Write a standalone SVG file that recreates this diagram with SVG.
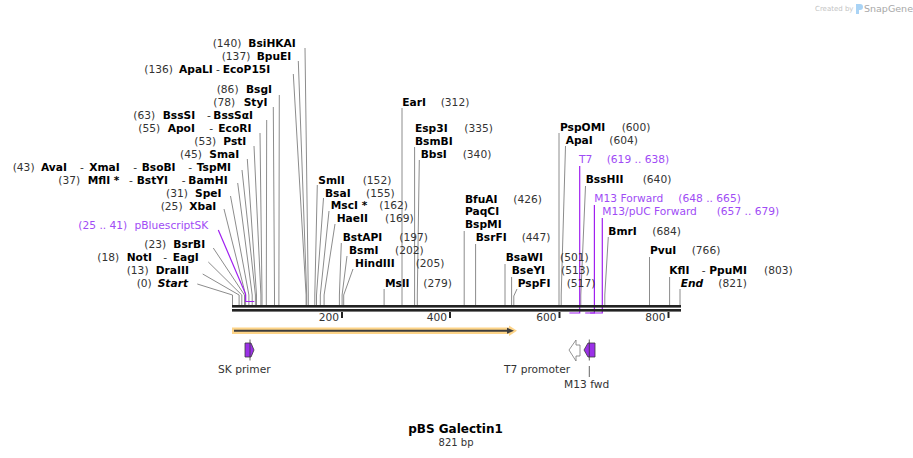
<svg xmlns="http://www.w3.org/2000/svg" width="913" height="458" viewBox="0 0 913 458">
<style>
text{font-family:"DejaVu Sans","Liberation Sans",sans-serif;font-size:10.67px}
.n{font-weight:bold;fill:#000}
.i{font-weight:bold;font-style:italic;fill:#000}
.p{fill:#333}
.pr{fill:#a04cf5}
.c{fill:none;stroke:#8c8c8c;stroke-width:1}
.cp{fill:none;stroke:#a020f0;stroke-width:1.2}
.bb{fill:#222}
.tk{stroke:#222;stroke-width:2}
.prim{fill:#9b30e8;stroke:#3a3a3a;stroke-width:0.8}
.ft{fill:#333}
</style>
<rect width="913" height="458" fill="#fff"/>

<g id="connectors">
<polyline class="c" points="305,48 308.3,295 308.3,305"/>
<polyline class="c" points="298.3,61 306.7,295 306.7,305"/>
<polyline class="c" points="293.3,74 306.1,295 306.1,305"/>
<polyline class="c" points="279.3,95 278.9,295 278.9,305"/>
<polyline class="c" points="273.3,107 274.5,295 274.5,305"/>
<polyline class="c" points="266.7,120 266.3,295 266.3,305"/>
<polyline class="c" points="260,133 262,295 262,305"/>
<polyline class="c" points="254,146 260.9,295 260.9,305"/>
<polyline class="c" points="247.3,159 256.5,295 256.5,305"/>
<polyline class="c" points="242,170 255.4,295 255.4,305"/>
<polyline class="c" points="237.7,183 252.2,295 252.2,305"/>
<polyline class="c" points="230.5,196 248.9,295 248.9,305"/>
<polyline class="c" points="224,209 245.6,295 245.6,305"/>
<polyline class="c" points="213.3,248 244.5,295 244.5,305"/>
<polyline class="c" points="208.3,262 241.8,295 241.8,305"/>
<polyline class="c" points="202.7,274 239.1,295 239.1,305"/>
<polyline class="c" points="197.3,284 232.5,295 232.5,305"/>
<polyline class="c" points="317.3,185 314.8,295 314.8,305"/>
<polyline class="c" points="323.5,198 316.5,295 316.5,305"/>
<polyline class="c" points="329,211 320.3,295 320.3,305"/>
<polyline class="c" points="335,224 324.1,295 324.1,305"/>
<polyline class="c" points="341.3,243 339.4,295 339.4,305"/>
<polyline class="c" points="347,256 342.1,295 342.1,305"/>
<polyline class="c" points="353,269 343.7,295 343.7,305"/>
<polyline class="c" points="384.1,289 384.1,305"/>
<polyline class="c" points="402,108 402,305"/>
<polyline class="c" points="414.6,147 414.6,305"/>
<polyline class="c" points="419.3,160 417.3,295 417.3,305"/>
<polyline class="c" points="464.2,231 464.2,305"/>
<polyline class="c" points="475.6,244 475.6,305"/>
<polyline class="c" points="505,264 505,305"/>
<polyline class="c" points="511.6,277 511.6,305"/>
<polyline class="c" points="517,289 513.8,296 513.8,305"/>
<polyline class="c" points="559,133 559,305"/>
<polyline class="c" points="565.5,146 561.2,295 561.2,305"/>
<polyline class="c" points="585.5,186 580.8,295 580.8,305"/>
<polyline class="c" points="608.3,237 604.8,295 604.8,305"/>
<polyline class="c" points="649.5,257 649.5,305"/>
<polyline class="c" points="669.6,277 669.6,305"/>
<polyline class="c" points="680,289 680,305"/>
<polyline class="cp" points="218.3,230 245.6,294 245.6,301.5 254.3,301.5"/>
<polyline class="cp" points="579.7,166 579.7,313 569.4,313"/>
<polyline class="cp" points="594.4,205 594.4,313 585.2,313"/>
<polyline class="cp" points="602.3,218 602.3,313 590.1,313"/>
<line x1="589.3" y1="366" x2="589.3" y2="377" stroke="#666" stroke-width="1"/>
</g>

<g id="backbone">
<rect class="bb" x="232" y="305" width="449" height="2.6"/>
<rect class="bb" x="232" y="309" width="449" height="2.6"/>
<line class="tk" x1="342" y1="312" x2="342" y2="318"/>
<line class="tk" x1="450" y1="312" x2="450" y2="318"/>
<line class="tk" x1="559.5" y1="312" x2="559.5" y2="318"/>
<line class="tk" x1="668.5" y1="312" x2="668.5" y2="318"/>
<text class="ft" x="339" y="321" text-anchor="end">200</text>
<text class="ft" x="447" y="321" text-anchor="end">400</text>
<text class="ft" x="556.5" y="321" text-anchor="end">600</text>
<text class="ft" x="665.5" y="321" text-anchor="end">800</text>
</g>

<g id="n-BsiHKAI"><text class="p" x="212.7" y="47">(140)</text><text class="n" x="248.3" y="47">BsiHKAI</text></g>
<g id="n-BpuEI"><text class="p" x="221.7" y="60">(137)</text><text class="n" x="256.7" y="60">BpuEI</text></g>
<g id="n-ApaLI"><text class="p" x="144.3" y="73">(136)</text><text class="n" x="179" y="73">ApaLI</text><text class="p" x="216" y="73">-</text><text class="n" x="222.7" y="73">EcoP15I</text></g>
<g id="n-BsgI"><text class="p" x="216.7" y="93">(86)</text><text class="n" x="246" y="93">BsgI</text></g>
<g id="n-StyI"><text class="p" x="213.3" y="106">(78)</text><text class="n" x="243.7" y="106">StyI</text></g>
<g id="n-BssSI"><text class="p" x="133.3" y="119">(63)</text><text class="n" x="162.7" y="119">BssSI</text><text class="p" x="207" y="119">-</text><text class="n" x="213.3" y="119">BssSαI</text></g>
<g id="n-ApoI"><text class="p" x="138.3" y="132">(55)</text><text class="n" x="167.7" y="132">ApoI</text><text class="p" x="209.3" y="132">-</text><text class="n" x="218.3" y="132">EcoRI</text></g>
<g id="n-PstI"><text class="p" x="194.3" y="145">(53)</text><text class="n" x="223.3" y="145">PstI</text></g>
<g id="n-SmaI"><text class="p" x="180" y="158">(45)</text><text class="n" x="209.3" y="158">SmaI</text></g>
<g id="n-AvaI"><text class="p" x="12.7" y="171">(43)</text><text class="n" x="41" y="171">AvaI</text><text class="p" x="80" y="171">-</text><text class="n" x="89.3" y="171">XmaI</text><text class="p" x="133.3" y="171">-</text><text class="n" x="141.7" y="171">BsoBI</text><text class="p" x="188.3" y="171">-</text><text class="n" x="196.7" y="171">TspMI</text></g>
<g id="n-MflI"><text class="p" x="58.3" y="184">(37)</text><text class="n" x="87.7" y="184">MflI *</text><text class="p" x="129" y="184">-</text><text class="n" x="136.7" y="184">BstYI</text><text class="p" x="181.7" y="184">-</text><text class="n" x="188.3" y="184">BamHI</text></g>
<g id="n-SpeI"><text class="p" x="166" y="197">(31)</text><text class="n" x="195" y="197">SpeI</text></g>
<g id="n-XbaI"><text class="p" x="160.7" y="210">(25)</text><text class="n" x="189.3" y="210">XbaI</text></g>
<g id="n-pBluescriptSK"><text class="pr" x="78.3" y="229">(25 .. 41)</text><text class="pr" x="134.5" y="229">pBluescriptSK</text></g>
<g id="n-BsrBI"><text class="p" x="144.3" y="248">(23)</text><text class="n" x="173.3" y="248">BsrBI</text></g>
<g id="n-NotI"><text class="p" x="97.3" y="261">(18)</text><text class="n" x="126.7" y="261">NotI</text><text class="p" x="163.3" y="261">-</text><text class="n" x="172.7" y="261">EagI</text></g>
<g id="n-DraIII"><text class="p" x="126.7" y="274">(13)</text><text class="n" x="155.7" y="274">DraIII</text></g>
<g id="n-Start"><text class="p" x="136.7" y="287">(0)</text><text class="i" x="157.7" y="287">Start</text></g>

<g id="n-EarI"><text class="n" x="402.3" y="106">EarI</text><text class="p" x="440.7" y="106">(312)</text></g>
<g id="n-Esp3I"><text class="n" x="415" y="132">Esp3I</text><text class="p" x="464.3" y="132">(335)</text><text class="n" x="415" y="145">BsmBI</text></g>
<g id="n-BbsI"><text class="n" x="420.7" y="158">BbsI</text><text class="p" x="462.7" y="158">(340)</text></g>
<g id="n-SmlI"><text class="n" x="318.3" y="183.5">SmlI</text><text class="p" x="362.7" y="183.5">(152)</text></g>
<g id="n-BsaI"><text class="n" x="325" y="196.5">BsaI</text><text class="p" x="366" y="196.5">(155)</text></g>
<g id="n-MscI"><text class="n" x="330.7" y="209">MscI *</text><text class="p" x="379.3" y="209">(162)</text></g>
<g id="n-HaeII"><text class="n" x="336.7" y="222">HaeII</text><text class="p" x="385" y="222">(169)</text></g>
<g id="n-BstAPI"><text class="n" x="342.7" y="241">BstAPI</text><text class="p" x="399.3" y="241">(197)</text></g>
<g id="n-BsmI"><text class="n" x="349" y="254">BsmI</text><text class="p" x="395" y="254">(202)</text></g>
<g id="n-HindIII"><text class="n" x="355" y="267">HindIII</text><text class="p" x="415.7" y="267">(205)</text></g>
<g id="n-MslI"><text class="n" x="385" y="287">MslI</text><text class="p" x="423.3" y="287">(279)</text></g>
<g id="n-BfuAI"><text class="n" x="465" y="202.5">BfuAI</text><text class="p" x="513.3" y="202.5">(426)</text><text class="n" x="465" y="215">PaqCI</text><text class="n" x="465" y="228">BspMI</text></g>
<g id="n-BsrFI"><text class="n" x="475.7" y="241">BsrFI</text><text class="p" x="521.7" y="241">(447)</text></g>
<g id="n-BsaWI"><text class="n" x="505.7" y="261">BsaWI</text><text class="p" x="560" y="261">(501)</text></g>
<g id="n-BseYI"><text class="n" x="511.7" y="274">BseYI</text><text class="p" x="561" y="274">(513)</text></g>
<g id="n-PspFI"><text class="n" x="517.7" y="287">PspFI</text><text class="p" x="566.7" y="287">(517)</text></g>
<g id="n-PspOMI"><text class="n" x="560" y="131">PspOMI</text><text class="p" x="621.7" y="131">(600)</text></g>
<g id="n-ApaI"><text class="n" x="565.7" y="144">ApaI</text><text class="p" x="609.3" y="144">(604)</text></g>
<g id="n-T7"><text class="pr" x="579" y="163">T7</text><text class="pr" x="606.7" y="163">(619 .. 638)</text></g>
<g id="n-BssHII"><text class="n" x="585.7" y="183">BssHII</text><text class="p" x="642.7" y="183">(640)</text></g>
<g id="n-M13Forward"><text class="pr" x="594.3" y="202">M13 Forward</text><text class="pr" x="678.3" y="202">(648 .. 665)</text></g>
<g id="n-M13pUCForward"><text class="pr" x="602.3" y="215">M13/pUC Forward</text><text class="pr" x="716.7" y="215">(657 .. 679)</text></g>
<g id="n-BmrI"><text class="n" x="608.3" y="235">BmrI</text><text class="p" x="652.3" y="235">(684)</text></g>
<g id="n-PvuI"><text class="n" x="650" y="254">PvuI</text><text class="p" x="691.7" y="254">(766)</text></g>
<g id="n-KflI"><text class="n" x="669.3" y="274">KflI</text><text class="p" x="701.7" y="274">-</text><text class="n" x="709.3" y="274">PpuMI</text><text class="p" x="764" y="274">(803)</text></g>
<g id="n-End"><text class="i" x="680.7" y="287">End</text><text class="p" x="718.3" y="287">(821)</text></g>

<g id="f-ORF">
<polygon points="232,327.5 509,327.5 509,325.5 517,330.8 509,336 509,334 232,334" fill="#fdd488"/>
<line x1="234" y1="330.8" x2="509" y2="330.8" stroke="#3d3d3d" stroke-width="2"/>
<polygon points="507,327.8 514,330.8 507,333.8" fill="#3d3d3d"/>
</g>
<g id="f-SKprimer">
<polygon class="prim" points="245,343 251,343 254,350 251,357 245,357"/>
<line x1="250" y1="339.5" x2="250" y2="360.5" stroke="#3a3a3a" stroke-width="0.8"/>
<text class="ft" x="218" y="373">SK primer</text>
</g>
<g id="f-T7promoter">
<polygon points="569,350 576,340 576,345 580,345 580,356 576,356 576,361" fill="#fff" stroke="#777" stroke-width="0.8"/>
<text class="ft" x="504" y="373">T7 promoter</text>
</g>
<g id="f-M13fwd">
<polygon class="prim" points="584,350 588,343 595,343 595,357 588,357"/>
<line x1="589.3" y1="339.5" x2="589.3" y2="360.5" stroke="#3a3a3a" stroke-width="0.8"/>
<text class="ft" x="564" y="388">M13 fwd</text>
</g>

<g id="title">
<text x="455.5" y="433" text-anchor="middle" style="font-weight:bold;font-size:12px;fill:#000">pBS Galectin1</text>
<text x="456" y="446" text-anchor="middle" style="font-size:10px;fill:#333">821 bp</text>
</g>

<g id="watermark">
<text x="815" y="10.5" style="font-size:7px;fill:#c4c4c4">Created by</text>
<path d="M856,4 h4 a3,3 0 0 1 0,6 h-1 v4 h-3 z" fill="#a9d3f5"/>
<text x="864" y="11.5" style="font-size:9.5px;fill:#a8a8a8">SnapGene</text>
</g>
</svg>
